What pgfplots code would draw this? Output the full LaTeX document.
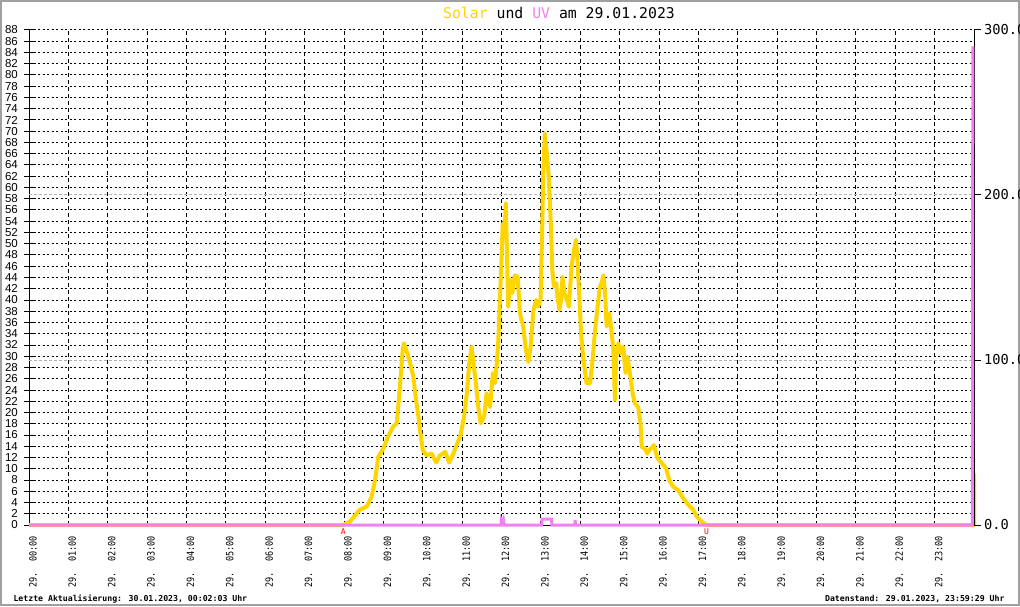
\documentclass[border=0pt]{standalone}
\usepackage{pgfplots}
\pgfplotsset{compat=1.18}
\usepackage{fontspec}
\setmainfont{Liberation Sans}
\newfontfamily\monofont{DejaVu Sans Mono}
\newfontfamily\narrowmono[FakeStretch=0.85]{DejaVu Sans Mono}
\definecolor{solar}{RGB}{255,213,0}
\definecolor{uv}{RGB}{238,130,238}
\definecolor{frame}{RGB}{160,160,160}

\pgfplotstableread{
h v
0 0
7.98 0
8.15 0.6
8.40 2.7
8.58 3.3
8.70 5.0
8.79 8.0
8.87 12.1
9.00 13.6
9.12 15.7
9.25 17.5
9.34 18.1
9.42 24.6
9.49 31.1
9.52 32.3
9.61 30.5
9.68 28.7
9.76 26.4
9.83 22.2
9.89 19.3
9.93 16.9
10.00 13.3
10.10 12.4
10.23 12.7
10.34 11.1
10.44 12.4
10.57 13.0
10.67 11.1
10.78 12.7
10.86 14.2
10.96 16.0
11.05 19.3
11.12 23.4
11.18 28.7
11.24 31.7
11.28 29.3
11.35 25.2
11.41 21.0
11.47 18.1
11.56 19.3
11.62 23.4
11.71 21.0
11.78 27.0
11.83 25.2
11.88 28.7
11.92 32.9
11.96 40.0
12.00 47.1
12.03 53.6
12.07 51.3
12.11 57.2
12.15 44.7
12.17 38.8
12.22 43.6
12.27 41.2
12.34 44.4
12.41 44.1
12.47 37.6
12.55 35.3
12.62 31.1
12.68 29.0
12.74 31.7
12.81 38.2
12.88 40.0
12.93 38.8
12.99 40.0
13.03 51.3
13.06 62.5
13.10 69.6
13.15 66.1
13.20 61.9
13.23 57.2
13.26 51.9
13.29 45.3
13.33 42.4
13.39 43.0
13.42 40.6
13.47 38.2
13.51 40.0
13.55 44.1
13.60 41.2
13.66 40.0
13.71 38.8
13.78 45.9
13.84 48.9
13.89 50.7
13.92 48.3
13.98 40.0
14.02 34.1
14.08 29.3
14.14 26.4
14.16 25.2
14.25 25.2
14.32 29.9
14.37 34.1
14.43 38.2
14.50 42.4
14.54 43.0
14.59 44.4
14.63 41.2
14.67 35.3
14.74 37.6
14.80 34.1
14.84 31.1
14.88 22.2
14.91 29.9
14.97 32.3
15.03 30.5
15.09 31.7
15.15 27.0
15.20 29.9
15.26 27.0
15.33 23.4
15.39 21.6
15.47 21.0
15.53 18.1
15.56 13.9
15.64 13.6
15.70 12.7
15.79 13.6
15.87 14.2
15.96 11.9
16.07 11.0
16.18 10.1
16.26 8.0
16.36 6.8
16.49 6.2
16.62 4.7
16.74 3.6
16.87 2.7
16.96 1.5
17.08 0.6
17.21 0
24.00 0
24.00 9.2
}\solartab

\pgfplotstableread{
h v
0 0
11.99 0
12.00 3
12.03 1.5
12.05 3
12.07 0
13.02 0
13.03 3.5
13.27 3.5
13.28 0
13.86 0
13.87 3
13.88 0
23.96 0
23.97 290
}\uvtab

\begin{document}
\begin{tikzpicture}[x=1pt,y=1pt]
\useasboundingbox (0,0) rectangle (1020,606);
\clip (0,0) rectangle (1020,606);
\fill[white] (0,0) rectangle (1020,606);
\draw[frame, line width=2pt] (1,1) rectangle (1019,605);

\begin{axis}[
  at={(29pt,81pt)}, anchor=south west,
  scale only axis, width=945pt, height=495pt,
  xmin=0, xmax=24, ymin=0, ymax=88,
  clip=false,
  axis x line*=bottom, axis y line*=left,
  axis line style={black, line width=1pt},
  xtick={0,1,...,23},
  xticklabels={29.\ \ 00:00,29.\ \ 01:00,29.\ \ 02:00,29.\ \ 03:00,29.\ \ 04:00,29.\ \ 05:00,29.\ \ 06:00,29.\ \ 07:00,29.\ \ 08:00,29.\ \ 09:00,29.\ \ 10:00,29.\ \ 11:00,29.\ \ 12:00,29.\ \ 13:00,29.\ \ 14:00,29.\ \ 15:00,29.\ \ 16:00,29.\ \ 17:00,29.\ \ 18:00,29.\ \ 19:00,29.\ \ 20:00,29.\ \ 21:00,29.\ \ 22:00,29.\ \ 23:00},
  xticklabel style={rotate=90, anchor=north east, inner sep=0pt, font=\narrowmono\fontsize{10}{10}\selectfont},
  xticklabel shift=6pt,
  ytick={0,2,...,88},
  yticklabel style={inner sep=0pt, font=\fontsize{11.5}{11.5}\selectfont, /pgf/number format/assume math mode=true},
  yticklabel shift=6pt,
  tick align=center,
  x tick style={draw=none},
  y tick style={black, line width=1pt},
  major tick length=10pt,
  xmajorgrids, ymajorgrids,
  x grid style={black, line width=1pt, dash pattern=on 4pt off 3pt},
  y grid style={black, line width=1pt, dash pattern=on 2pt off 2.5pt},
  extra y ticks={29.3333,58.6667},
  extra y tick labels={},
  extra y tick style={y grid style={black!30, line width=1pt, dash pattern=on 3pt off 2pt}, major tick length=0pt},
]
\addplot[solar, line width=4pt, line join=round] table[x=h, y=v] {\solartab};
\node[red, font=\monofont\fontsize{8}{8}\selectfont, anchor=north, inner sep=0pt] at (axis cs:7.98,0) [yshift=-3pt] {A};
\node[red, font=\monofont\fontsize{8}{8}\selectfont, anchor=north, inner sep=0pt] at (axis cs:17.21,0) [yshift=-3pt] {U};
\end{axis}

\begin{axis}[
  at={(29pt,81pt)}, anchor=south west,
  scale only axis, width=945pt, height=495pt,
  xmin=0, xmax=24, ymin=0, ymax=300,
  clip=false,
  hide x axis,
  axis y line*=right,
  axis line style={black, line width=1pt},
  ytick={0,100,200,300},
  tick align=outside,
  major tick length=7pt,
  y tick style={black, line width=1pt},
  yticklabel style={inner sep=0pt, font=\monofont\fontsize{13.7}{13.7}\selectfont,
    /pgf/number format/.cd, fixed, fixed zerofill, precision=1, assume math mode=true},
  yticklabel shift=3pt,
]
\addplot[uv, line width=3pt] table[x=h, y=v] {\uvtab};
\end{axis}

\node[font=\monofont\fontsize{14.8}{14.8}\selectfont] at (559,593)
  {\textcolor{solar}{Solar} und \textcolor{uv}{UV} am 29.01.2023};
\node[anchor=west, font=\monofont\bfseries\fontsize{8.2}{8.2}\selectfont] at (10,7)
  {Letzte Aktualisierung: 30.01.2023, 00:02:03 Uhr};
\node[anchor=east, font=\monofont\bfseries\fontsize{8.2}{8.2}\selectfont] at (1008,7)
  {Datenstand: 29.01.2023, 23:59:29 Uhr};
\end{tikzpicture}
\end{document}
